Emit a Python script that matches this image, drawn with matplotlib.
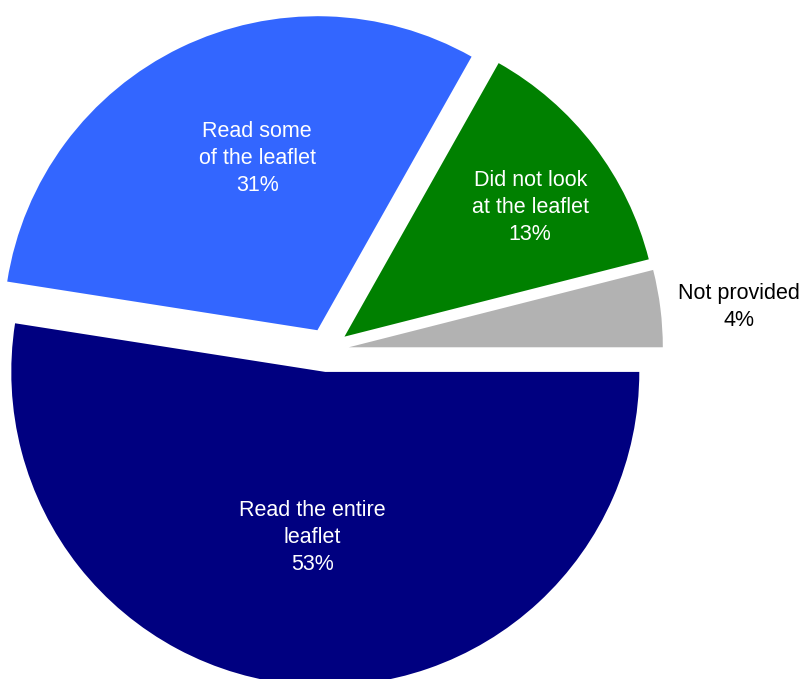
import matplotlib.pyplot as plt
import numpy as np

plt.rcParams['font.family'] = ['Liberation Sans', 'DejaVu Sans']

# slices, counter-clockwise from 3 o'clock
labels = ["Not provided", "Did not look\nat the leaflet", "Read some\nof the leaflet", "Read the entire\nleaflet"]
values = [4, 13, 31, 53]
colors = ["#B2B2B2", "#008000", "#3366FF", "#000080"]
text_colors = ["black", "white", "white", "white"]
# label placement: distance from centre (radii) and angle (deg)
label_dist = [1.32, 0.79, 0.65, 0.60]
label_ang = [6.0, 35.0, 110.0, 265.5]

fig = plt.figure(figsize=(8.03, 6.79), dpi=100)
ax = fig.add_axes([0, 0, 1, 1])

wedges, _ = ax.pie(values, colors=colors, startangle=0, counterclock=True,
                   explode=[0.07] * 4, radius=1.0,
                   wedgeprops=dict(linewidth=0))

for lab, v, tc, d, a in zip(labels, values, text_colors, label_dist, label_ang):
    t = np.deg2rad(a)
    ax.text(d * np.cos(t), d * np.sin(t), f"{lab}\n{v}%",
            ha="center", va="center", color=tc, fontsize=15.5, linespacing=1.38)

# 1 data unit = 314 px, centre at (327, 350) px from top-left
ax.set_aspect("auto")
ax.set_xlim(-327 / 314, (803 - 327) / 314)
ax.set_ylim(-(679 - 350) / 314, 350 / 314)
ax.axis("off")

fig.savefig("out.png", dpi=100)
